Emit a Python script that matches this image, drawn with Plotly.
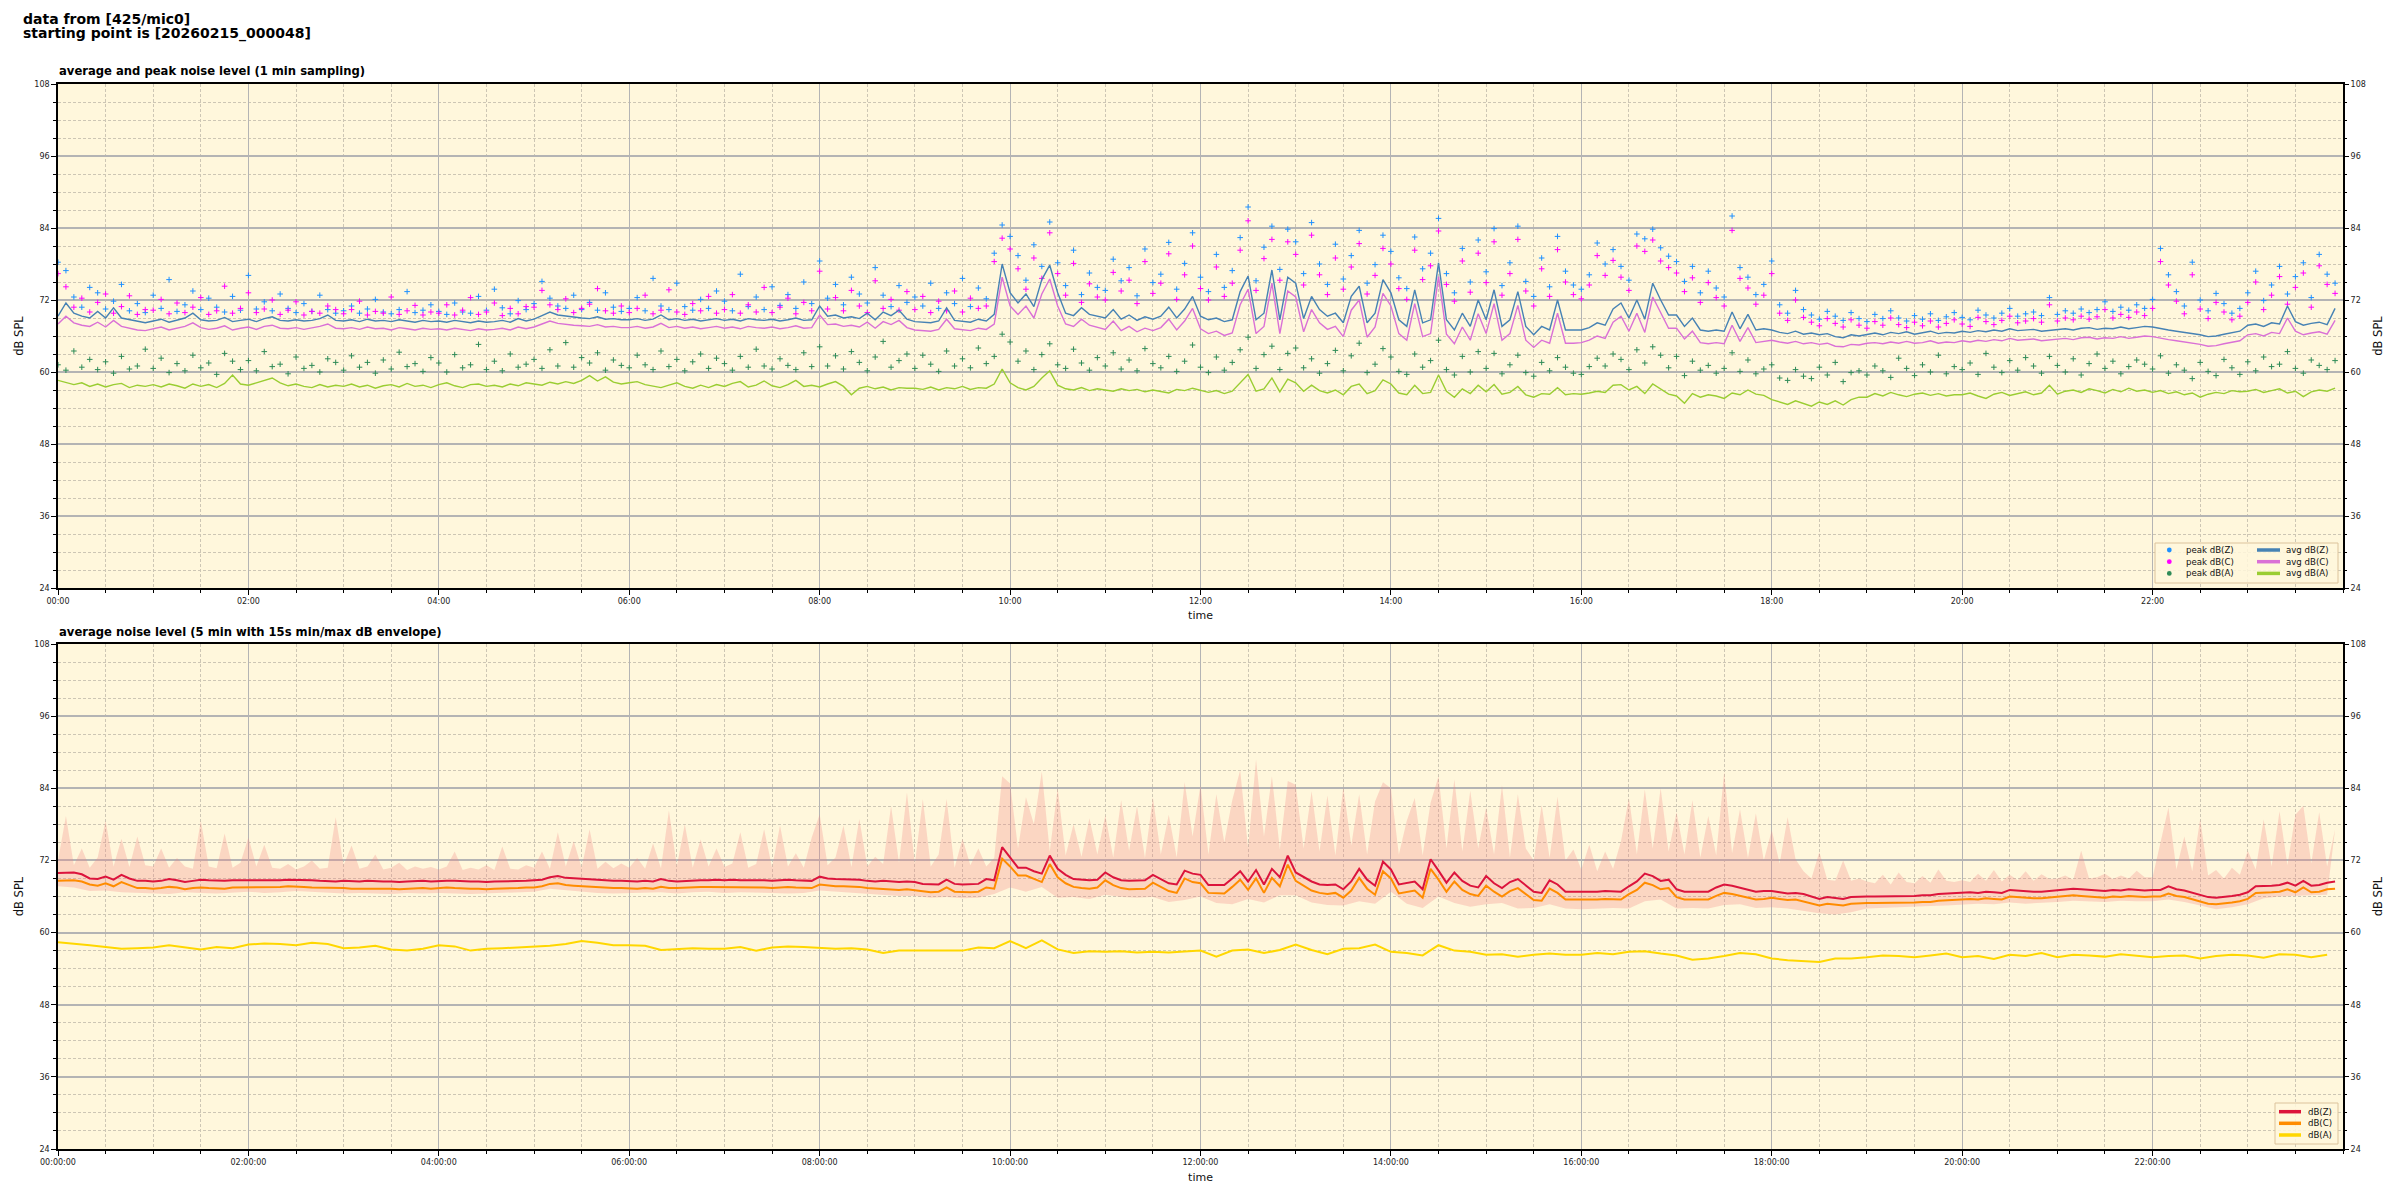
import pandas as pd
import plotly.graph_objects as go

BASE = pd.Timestamp("2026-02-15 00:00:00")
T5 = list(range(0, 1440, 5))     # minutes after midnight, 5-min samples
T10 = list(range(0, 1440, 10))   # minutes after midnight, 10-min samples
TICK_HOURS = [0, 2, 4, 6, 8, 10, 12, 14, 16, 18, 20, 22]
TICK_FMT_TOP = "%H:%M"
TICK_FMT_BOTTOM = "%H:%M:%S"

TITLE_LINES = ["data from [425/mic0]", "starting point is [20260215_000048]"]
TOP_TITLE = "average and peak noise level (1 min sampling)"
BOTTOM_TITLE = "average noise level (5 min with 15s min/max dB envelope)"

# ---------------- top panel: 1-min average / peak levels (read at 5-min steps) ----------------
AVG_Z = [
    69.3, 71.5, 69.8, 69.3, 69.0, 70.1, 69.0, 70.7, 69.0, 68.7, 68.4, 68.2,
    68.5, 68.8, 68.3, 68.6, 69.0, 69.8, 68.7, 68.5, 68.6, 69.1, 68.4, 68.6,
    68.8, 68.4, 68.9, 69.2, 68.6, 68.5, 68.7, 68.5, 68.6, 68.9, 69.5, 68.6,
    68.5, 68.7, 68.4, 68.8, 68.5, 68.6, 68.4, 68.7, 68.5, 68.3, 68.6, 68.4,
    68.5, 68.3, 68.6, 68.4, 68.2, 68.5, 68.3, 68.4, 68.6, 68.3, 68.9, 68.5,
    68.8, 69.4, 70.0, 69.5, 69.3, 69.1, 69.0, 68.9, 69.2, 68.8, 68.9, 68.7,
    68.7, 68.9, 68.6, 68.8, 69.5, 68.7, 68.9, 68.6, 68.8, 68.5, 68.7, 68.9,
    68.6, 68.8, 68.5, 68.9, 68.7, 68.6, 68.8, 68.5, 68.7, 69.0, 68.6, 68.7,
    71.0, 69.3, 69.5, 69.0, 69.2, 68.9, 69.8, 68.7, 70.0, 69.4, 70.3, 68.8,
    68.4, 68.3, 68.2, 68.5, 70.7, 68.6, 68.4, 68.3, 68.8, 68.5, 69.6, 78.0,
    73.2, 71.5, 73.0, 70.9, 75.4, 77.8, 73.2, 69.8, 69.4, 70.7, 69.6, 69.3,
    69.0, 70.4, 68.8, 69.5, 68.6, 69.2, 68.8, 69.3, 70.8, 69.0, 70.5, 72.6,
    69.3, 68.7, 69.0, 68.4, 68.7, 73.4, 76.0, 68.7, 69.8, 77.0, 68.7, 75.8,
    74.8, 68.9, 72.6, 70.4, 69.3, 69.8, 68.2, 72.6, 74.3, 68.2, 69.8, 75.4,
    73.2, 68.7, 67.6, 73.7, 68.2, 68.7, 78.2, 68.7, 67.0, 69.8, 67.6, 72.0,
    68.7, 73.7, 67.6, 68.7, 73.4, 67.6, 66.2, 67.6, 67.0, 72.0, 67.0, 67.0,
    67.0, 67.4, 68.2, 67.8, 70.5, 71.5, 69.0, 72.0, 68.8, 74.8, 72.0, 69.5,
    69.5, 67.6, 69.0, 67.0, 66.8, 67.0, 66.8, 70.0, 67.2, 69.6, 67.0, 67.2,
    67.0, 66.6, 66.4, 66.8, 66.3, 66.5, 66.2, 66.4, 65.9, 65.7, 66.2, 66.0,
    66.3, 66.5, 66.2, 66.6, 66.4, 66.7, 66.3, 66.5, 66.8, 66.4, 66.6, 66.5,
    66.8, 66.6, 66.9, 66.7, 67.0, 66.8, 67.2, 66.9, 67.0, 67.1, 66.8, 66.9,
    67.0, 67.2, 67.0, 67.3, 67.4, 67.1, 67.3, 67.2, 67.5, 67.2, 67.4, 67.6,
    67.5, 67.2, 67.0, 66.8, 66.6, 66.5, 66.2, 65.9, 66.0, 66.3, 66.6, 66.8,
    67.8, 68.0, 67.6, 68.2, 68.0, 71.0, 68.4, 67.8, 68.1, 68.3, 67.9, 70.6,
]
AVG_C = [
    68.0, 69.3, 68.2, 67.8, 67.6, 68.3, 67.5, 68.6, 67.6, 67.3, 67.0, 66.9,
    67.2, 67.5, 67.0, 67.3, 67.6, 68.2, 67.4, 67.1, 67.3, 67.7, 67.0, 67.3,
    67.5, 67.1, 67.6, 67.8, 67.3, 67.2, 67.4, 67.1, 67.3, 67.6, 68.0, 67.3,
    67.2, 67.4, 67.1, 67.5, 67.2, 67.3, 67.0, 67.4, 67.2, 67.0, 67.3, 67.1,
    67.2, 67.0, 67.3, 67.1, 66.9, 67.2, 67.0, 67.1, 67.3, 67.0, 67.5, 67.2,
    67.5, 68.0, 68.5, 68.1, 67.9, 67.8, 67.7, 67.6, 67.9, 67.5, 67.6, 67.4,
    67.4, 67.6, 67.3, 67.5, 68.1, 67.4, 67.6, 67.3, 67.5, 67.2, 67.4, 67.6,
    67.3, 67.5, 67.2, 67.6, 67.4, 67.3, 67.5, 67.2, 67.4, 67.7, 67.3, 67.4,
    69.5, 67.9, 68.0, 67.6, 67.8, 67.5, 68.3, 67.3, 68.4, 67.9, 68.6, 67.4,
    67.0, 66.9, 66.8, 67.1, 68.8, 67.2, 67.0, 66.9, 67.3, 67.1, 68.0, 75.8,
    71.0, 69.6, 71.0, 69.0, 73.0, 75.5, 71.0, 68.0, 67.6, 68.8, 67.8, 67.5,
    67.1, 68.5, 66.9, 67.6, 66.7, 67.3, 66.9, 67.4, 68.8, 67.0, 68.5, 70.6,
    67.2, 66.4, 66.8, 66.1, 66.5, 71.2, 73.8, 66.4, 67.6, 74.8, 66.4, 73.5,
    72.5, 66.7, 70.4, 68.2, 67.1, 67.6, 65.9, 70.3, 72.0, 65.8, 67.5, 73.1,
    71.0, 66.4, 65.3, 71.4, 65.9, 66.4, 75.9, 66.3, 64.7, 67.5, 65.3, 69.7,
    66.4, 71.4, 65.3, 66.4, 71.1, 65.3, 64.1, 65.3, 64.8, 69.8, 64.8, 64.8,
    64.9, 65.3, 66.0, 65.6, 68.3, 69.3, 66.8, 69.8, 66.6, 72.5, 69.8, 67.3,
    67.3, 65.5, 66.8, 64.9, 64.7, 64.9, 64.7, 67.8, 65.1, 67.4, 64.9, 65.1,
    65.3, 65.0, 64.8, 65.1, 64.7, 64.9, 64.6, 64.8, 64.3, 64.2, 64.6, 64.5,
    64.8, 64.9, 64.7, 65.0, 64.8, 65.1, 64.8, 64.9, 65.2, 64.8, 65.0, 64.9,
    65.2, 65.0, 65.3, 65.1, 65.4, 65.2, 65.6, 65.3, 65.4, 65.5, 65.2, 65.3,
    65.4, 65.6, 65.4, 65.7, 65.8, 65.5, 65.7, 65.6, 65.9, 65.6, 65.8, 66.0,
    65.9, 65.6, 65.4, 65.2, 65.0, 64.9, 64.6, 64.3, 64.4, 64.7, 65.0, 65.2,
    66.2, 66.4, 66.0, 66.6, 66.4, 69.0, 66.8, 66.2, 66.5, 66.7, 66.3, 68.6,
]
AVG_A = [
    58.6, 58.3, 57.9, 58.2, 57.6, 58.0, 57.5, 57.9, 58.1, 57.4, 57.8, 57.6,
    57.9, 57.5, 58.0, 57.7, 57.3, 58.0, 57.6, 57.9, 57.4, 58.1, 59.5, 58.0,
    57.8, 58.2, 58.6, 59.0, 58.2, 57.7, 58.0, 57.6, 57.4, 57.9, 57.5, 57.8,
    57.6, 58.0, 57.5, 57.8, 57.3, 57.7, 57.9, 57.5, 58.1, 57.6, 57.8, 57.4,
    57.9, 58.2, 57.7, 57.4, 57.9, 58.0, 57.6, 57.8, 57.5, 58.0, 57.7, 58.2,
    58.0, 57.8, 58.3, 58.0, 58.4, 58.1, 58.6, 59.4, 58.5, 59.2, 58.3, 58.0,
    58.2, 58.4, 57.9, 57.6, 57.4, 57.8, 58.2, 57.6, 57.3, 57.8, 57.4, 57.9,
    57.6, 58.1, 58.4, 57.5, 57.8, 58.5, 57.7, 57.4, 57.9, 58.6, 57.6, 57.8,
    57.5, 58.0, 58.4, 57.6, 56.2, 57.3, 57.6, 57.2, 57.5, 57.0, 57.4, 57.3,
    57.3, 57.1, 57.5, 57.0, 57.4, 57.2, 57.6, 57.1, 57.4, 57.3, 58.0, 60.5,
    58.2, 57.4, 57.0, 57.6, 59.0, 60.2, 57.8, 57.2, 57.0, 57.4, 56.9, 57.2,
    57.0, 56.8, 57.2, 56.9, 57.1, 56.7, 57.0, 56.8, 56.5, 57.1, 56.9, 57.3,
    57.0, 56.6, 56.9, 56.4, 56.8, 58.2, 59.6, 56.8, 57.2, 59.0, 56.7, 58.8,
    58.2, 56.8, 57.8, 56.9, 56.5, 57.0, 56.2, 57.6, 58.0, 56.4, 56.9, 58.7,
    58.0, 56.5, 56.2, 57.8, 56.4, 56.6, 59.5, 56.8, 55.8, 57.2, 56.4, 57.8,
    56.7, 57.9, 56.3, 56.6, 57.6, 56.2, 55.8, 56.4, 56.3, 57.4, 56.2, 56.4,
    56.3, 56.5, 56.8, 56.6, 57.8, 57.9, 57.0, 57.6, 56.4, 58.0, 57.2, 56.3,
    56.0, 54.8, 56.4, 55.8, 56.2, 56.0, 55.6, 56.5, 56.2, 57.0, 56.3, 56.1,
    55.4, 55.0, 54.6, 55.2, 54.8, 54.3, 55.0, 54.6, 55.2, 54.5, 55.4, 55.8,
    55.8, 56.4, 56.0, 56.6, 56.2, 55.9, 56.3, 56.5, 56.1, 56.4, 56.0, 56.2,
    56.2, 56.5, 56.0, 55.6, 56.3, 56.6, 56.1, 56.4, 56.7, 56.2, 56.5, 57.8,
    56.3, 56.8, 57.0, 56.6, 57.2, 56.9, 56.5, 57.1, 56.7, 57.3, 56.8, 57.0,
    56.6, 56.9, 56.4, 56.7, 56.2, 56.5, 55.8, 56.3, 56.6, 56.4, 56.9, 56.7,
    56.8, 57.1, 56.6, 56.9, 57.2, 56.5, 56.8, 55.9, 56.7, 57.0, 56.8, 57.3,
]
PEAK_Z = [
    78.3, 76.9, 72.5, 70.8, 74.1, 73.2, 70.5, 71.8, 74.6, 70.2, 71.4, 69.9,
    72.8, 70.6, 75.4, 70.1, 71.2, 73.5, 70.4, 72.3, 70.8, 70.0, 72.6, 70.3,
    76.1, 70.5, 71.7, 70.2, 73.0, 70.6, 69.9, 71.4, 70.1, 72.8, 70.4, 69.8,
    70.2, 71.0, 69.8, 70.5, 72.1, 70.0, 69.7, 70.4, 73.4, 69.9, 70.3, 71.2,
    70.1, 69.6, 71.5, 70.0, 69.8, 72.6, 70.3, 73.8, 70.7, 69.7, 71.9, 70.4,
    71.4, 75.1, 72.3, 71.0, 70.6, 72.8, 70.4, 71.6, 70.3, 73.2, 70.8, 70.1,
    70.6, 72.4, 70.2, 75.6, 71.0, 70.4, 74.8, 70.9, 70.3, 72.1, 70.6, 73.5,
    71.8, 70.2, 76.3, 70.9, 72.5, 70.4, 74.2, 71.1, 72.9, 70.6, 75.0, 71.4,
    78.5, 72.3, 74.6, 71.2, 75.8, 73.0, 71.5, 77.4, 72.8, 70.9, 74.4, 71.6,
    72.5, 71.0, 74.8, 70.6, 73.2, 71.4, 75.6, 70.9, 74.0, 72.2, 79.8, 84.5,
    82.6, 79.4, 75.3, 81.2, 77.6, 85.0, 78.2, 74.4, 80.3, 72.9, 76.5, 74.1,
    73.6, 78.8, 75.2, 77.4, 72.7, 80.5, 74.9, 76.3, 81.6, 73.8, 78.1, 83.2,
    75.8, 73.4, 79.6, 74.1, 76.9, 82.4, 87.5, 75.2, 80.8, 84.3, 77.1, 83.8,
    81.7, 76.4, 84.9, 78.0, 74.6, 81.3, 75.5, 79.4, 83.6, 74.8, 77.9, 82.8,
    80.1, 75.7, 73.9, 82.5, 77.2, 79.8, 85.6, 76.4, 73.2, 80.6, 75.0, 82.0,
    76.7, 83.9, 74.4, 78.2, 84.3, 75.1, 72.6, 79.0, 74.2, 82.6, 76.8, 74.5,
    73.8, 76.2, 81.5, 78.0, 80.4, 77.6, 75.3, 83.0, 82.2, 83.8, 80.7, 79.3,
    78.4, 75.1, 77.6, 73.2, 76.8, 74.0, 72.5, 86.0, 77.4, 75.8, 72.9, 74.6,
    78.5, 71.2, 69.8, 73.6, 70.4, 69.5, 68.8, 70.1, 69.3, 68.6, 69.9, 68.9,
    68.4, 69.6, 68.9, 70.2, 69.0, 68.5, 69.4, 68.8, 69.7, 68.6, 69.2, 69.9,
    69.1, 68.7, 70.3, 69.5, 69.0, 69.8, 70.6, 69.3, 69.7, 70.0, 69.4, 72.4,
    69.6, 70.2, 69.8, 70.5, 69.9, 70.4, 71.7, 70.1, 70.8, 70.3, 71.2, 70.6,
    72.1, 80.6, 76.2, 73.4, 71.0, 78.3, 72.0, 70.2, 73.1, 71.4, 69.8, 70.6,
    73.2, 76.8, 71.9, 74.5, 77.6, 73.0, 75.9, 78.2, 72.4, 79.6, 76.3, 74.8,
]
PEAK_C = [
    76.4, 74.2, 70.8, 72.3, 70.0, 71.6, 73.0, 69.8, 70.9, 72.7, 69.6, 70.4,
    70.3, 72.1, 69.7, 71.5, 69.9, 70.8, 72.4, 69.6, 70.2, 74.3, 69.8, 70.6,
    73.2, 69.9, 70.5, 72.0, 69.6, 70.3, 71.7, 69.5, 70.1, 69.8, 71.0, 70.4,
    69.7, 70.4, 71.8, 69.5, 70.1, 69.8, 72.5, 69.6, 70.2, 71.1, 69.5, 70.0,
    69.8, 71.2, 69.5, 70.3, 72.4, 69.6, 70.0, 71.5, 69.4, 70.6, 69.7, 70.9,
    70.8, 73.6, 71.2, 70.4, 72.2, 69.9, 70.6, 71.3, 73.9, 70.2, 69.8, 71.0,
    69.9, 70.6, 72.8, 69.7, 70.3, 73.7, 70.0, 69.6, 71.4, 70.2, 72.6, 69.8,
    70.4, 72.9, 69.8, 71.2, 70.0, 74.1, 69.9, 70.8, 72.3, 69.7, 71.6, 70.2,
    76.8, 70.5, 72.4, 70.2, 73.6, 71.0, 69.9, 75.2, 70.6, 72.1, 70.3, 73.4,
    70.4, 72.6, 69.9, 71.8, 70.2, 73.5, 70.0, 72.3, 70.6, 71.0, 78.4, 82.3,
    80.5, 77.2, 73.8, 79.0, 75.6, 83.2, 76.4, 72.8, 78.1, 71.6, 74.7, 72.5,
    72.0, 76.6, 73.5, 75.3, 71.4, 78.4, 73.1, 74.8, 79.7, 72.1, 76.2, 81.0,
    73.9, 72.0, 77.5, 72.6, 74.8, 80.3, 85.2, 73.6, 78.9, 82.1, 75.3, 81.7,
    79.6, 74.5, 82.8, 76.2, 72.9, 79.0, 73.8, 77.5, 81.4, 73.0, 76.1, 80.6,
    78.0, 73.9, 72.1, 80.3, 75.4, 77.7, 83.5, 74.6, 71.8, 78.5, 73.3, 79.8,
    74.9, 81.7, 72.8, 76.4, 82.1, 73.5, 71.0, 77.2, 72.6, 80.4, 75.0, 72.9,
    72.2, 74.5, 79.4, 76.1, 78.6, 75.8, 73.6, 81.0, 80.1, 82.0, 78.5, 77.4,
    76.5, 73.4, 75.7, 71.6, 74.9, 72.4, 71.0, 83.6, 75.6, 74.0, 71.3, 72.8,
    76.4, 69.8, 68.6, 72.0, 69.1, 68.3, 67.7, 68.9, 68.1, 67.5, 68.7, 67.8,
    67.3, 68.4, 67.8, 69.0, 67.9, 67.4, 68.3, 67.7, 68.5, 67.5, 68.1, 68.7,
    68.0, 67.6, 69.1, 68.4, 67.9, 68.6, 69.3, 68.2, 68.5, 68.9, 68.3, 71.2,
    68.5, 69.0, 68.7, 69.3, 68.8, 69.2, 70.4, 69.0, 69.6, 69.1, 70.0, 69.4,
    70.6, 78.4, 74.5, 71.8, 69.7, 76.2, 70.5, 68.9, 71.6, 70.0, 68.7, 69.3,
    71.6, 75.0, 70.4, 72.8, 75.9, 71.3, 74.1, 76.5, 70.8, 77.7, 74.6, 73.1,
]
PEAK_A = [
    61.2, 60.3, 63.5, 60.8, 62.1, 60.4, 61.7, 59.8, 62.6, 60.5, 61.0, 63.8,
    60.6, 62.3, 59.9, 61.4, 60.2, 62.8, 60.7, 61.5, 59.6, 63.1, 61.8, 60.4,
    61.9, 60.2, 63.4, 60.9, 61.3, 59.7, 62.5, 60.6, 61.1, 60.0, 62.2, 61.6,
    60.3, 62.7, 60.8, 61.6, 59.8, 62.0, 60.5, 63.3, 60.9, 61.4, 60.1, 62.4,
    61.5, 60.0, 62.9, 60.7, 61.2, 64.6, 60.4, 61.8, 60.2, 63.0, 60.8, 61.3,
    62.1, 60.6, 63.7, 61.0, 64.9, 60.8, 62.4, 61.5, 63.2, 60.3, 62.0, 61.1,
    60.7, 62.8, 61.2, 60.4, 63.5, 60.9, 62.1, 60.2, 61.7, 63.0, 60.6, 62.3,
    61.4, 60.3, 62.6, 60.8, 63.8, 61.0, 60.5, 62.2, 61.1, 60.4, 63.2, 60.9,
    64.2, 61.0, 62.7, 60.5, 63.4, 61.6, 60.2, 62.5, 65.1, 60.8, 61.9, 63.0,
    60.6, 62.8, 61.3, 60.1, 63.5, 61.0, 62.2, 60.7, 64.0, 61.4, 62.6, 66.3,
    65.0, 61.8, 63.5, 60.4, 62.9, 64.7, 61.2, 60.6, 63.8, 61.5, 60.3, 62.4,
    61.0, 63.2, 60.5, 62.0, 60.2, 63.9, 61.4, 60.7, 62.6, 60.1, 61.8, 64.5,
    60.8, 59.9, 62.5, 60.3, 61.6, 63.7, 65.8, 60.6, 62.9, 64.3, 60.4, 63.1,
    64.0, 60.7, 62.2, 59.8, 61.4, 63.6, 60.2, 62.7, 64.8, 59.9, 61.3, 63.9,
    62.5, 60.1, 59.6, 63.0, 60.8, 61.9, 65.3, 60.4, 59.5, 62.6, 60.0, 63.4,
    60.6, 63.1, 59.7, 61.2, 62.8, 59.9, 59.3, 61.6, 60.2, 62.4, 60.8, 59.8,
    59.6, 60.9, 62.3, 61.0, 63.0, 62.1, 60.4, 63.7, 61.5, 64.2, 62.8, 60.7,
    62.6, 59.4, 61.8, 60.3, 61.1, 59.8, 60.6, 63.2, 60.1, 62.0, 59.7, 60.5,
    61.2, 59.0, 58.6, 60.4, 59.3, 58.9, 60.8, 59.5, 61.6, 58.4, 59.9, 60.2,
    59.5, 61.0, 60.2, 59.1, 62.3, 60.6, 59.4, 61.2, 60.0, 62.8, 59.7, 60.9,
    60.4, 61.5, 59.6, 63.1, 60.8, 59.9, 61.9, 60.3, 62.4, 61.0, 59.8, 62.6,
    61.1, 60.0, 62.2, 59.5, 61.4, 63.0, 60.6, 61.8, 59.7, 60.9, 62.0, 61.3,
    60.5, 62.7, 59.8, 61.2, 60.3, 58.9, 61.6, 60.1, 59.4, 62.1, 60.7, 59.6,
    61.7, 60.2, 62.5, 60.9, 61.3, 63.4, 60.6, 59.8, 62.0, 61.1, 60.4, 61.9,
]

# ---------------- bottom panel: 5-min averages with 15 s min/max envelope ----------------
LVL_Z = [
    69.9, 70.0, 70.0, 69.7, 69.0, 68.9, 69.3, 68.8, 69.6, 69.0, 68.6, 68.6,
    68.5, 68.6, 68.9, 68.7, 68.4, 68.6, 68.8, 68.7, 68.6, 68.6, 68.7, 68.7,
    68.7, 68.7, 68.6, 68.6, 68.7, 68.8, 68.8, 68.7, 68.7, 68.6, 68.5, 68.5,
    68.6, 68.5, 68.5, 68.6, 68.5, 68.5, 68.5, 68.4, 68.5, 68.6, 68.6, 68.5,
    68.6, 68.6, 68.6, 68.5, 68.5, 68.5, 68.4, 68.5, 68.5, 68.5, 68.6, 68.6,
    68.7, 68.8, 69.2, 69.4, 69.1, 69.0, 68.9, 68.8, 68.7, 68.7, 68.6, 68.6,
    68.5, 68.5, 68.6, 68.5, 68.9, 68.6, 68.5, 68.6, 68.7, 68.7, 68.7, 68.8,
    68.7, 68.8, 68.7, 68.7, 68.8, 68.7, 68.6, 68.7, 68.8, 68.7, 68.7, 68.6,
    69.3, 69.0, 68.9, 68.9, 68.9, 68.8, 68.6, 68.5, 68.6, 68.5, 68.4, 68.5,
    68.4, 68.1, 68.0, 68.0, 68.8, 68.1, 68.0, 68.0, 68.1, 68.9, 68.7, 74.2,
    72.5, 70.8, 70.8, 70.2, 69.8, 72.8, 70.6, 69.6, 68.9, 68.8, 68.7, 68.8,
    70.0, 69.2, 68.7, 68.6, 68.6, 68.7, 69.6, 68.9, 68.2, 68.0, 70.3, 69.8,
    69.6, 67.9, 67.9, 67.9, 69.0, 70.2, 68.5, 70.4, 68.0, 70.6, 69.2, 72.8,
    70.0, 69.3, 68.5, 68.0, 67.9, 68.0, 67.2, 68.5, 70.6, 68.8, 67.8, 71.8,
    70.5, 68.0, 68.2, 68.5, 67.2, 72.2, 70.3, 68.3, 70.0, 68.6, 67.8, 67.5,
    69.4, 68.2, 67.4, 68.4, 68.9, 67.8, 66.8, 66.6, 68.7, 68.0, 66.8, 66.8,
    66.8, 66.7, 66.8, 66.9, 66.8, 66.8, 67.7, 68.5, 69.8, 69.4, 68.6, 68.8,
    67.2, 66.8, 66.8, 66.8, 66.8, 67.5, 68.0, 67.8, 67.5, 67.2, 66.8, 66.9,
    66.9, 66.7, 66.5, 66.6, 66.4, 66.0, 65.6, 65.9, 65.7, 65.6, 65.9, 66.0,
    66.0, 66.0, 66.0, 66.0, 66.1, 66.1, 66.1, 66.2, 66.2, 66.4, 66.5, 66.5,
    66.6, 66.7, 66.6, 66.8, 66.7, 66.6, 67.1, 67.0, 66.8, 66.8, 66.8, 66.9,
    67.0, 67.1, 67.3, 67.2, 67.1, 67.0, 66.9, 67.1, 67.0, 67.2, 67.1, 67.0,
    67.1, 67.1, 67.7, 67.2, 67.0, 66.6, 66.2, 65.9, 65.8, 65.9, 66.1, 66.3,
    66.7, 67.7, 67.7, 67.8, 67.9, 68.3, 67.8, 68.6, 67.8, 67.9, 68.3, 68.5,
]
LVL_C = [
    68.6, 68.7, 68.7, 68.5, 68.0, 67.8, 68.2, 67.7, 68.4, 67.9, 67.4, 67.4,
    67.3, 67.4, 67.6, 67.5, 67.2, 67.4, 67.5, 67.4, 67.4, 67.3, 67.5, 67.5,
    67.6, 67.6, 67.5, 67.5, 67.6, 67.7, 67.7, 67.6, 67.5, 67.5, 67.4, 67.4,
    67.4, 67.3, 67.3, 67.4, 67.4, 67.3, 67.3, 67.2, 67.3, 67.4, 67.4, 67.3,
    67.4, 67.5, 67.4, 67.3, 67.3, 67.3, 67.2, 67.3, 67.3, 67.4, 67.4, 67.5,
    67.5, 67.7, 68.1, 68.2, 67.9, 67.8, 67.7, 67.6, 67.5, 67.5, 67.4, 67.4,
    67.3, 67.3, 67.4, 67.3, 67.6, 67.4, 67.4, 67.5, 67.5, 67.6, 67.6, 67.6,
    67.5, 67.6, 67.5, 67.5, 67.6, 67.5, 67.4, 67.5, 67.6, 67.5, 67.5, 67.4,
    68.0, 67.8, 67.7, 67.7, 67.7, 67.6, 67.4, 67.3, 67.3, 67.2, 67.1, 67.2,
    67.0, 66.8, 66.7, 66.8, 67.5, 66.8, 66.7, 66.7, 66.8, 67.5, 67.3, 72.3,
    71.0, 69.5, 69.5, 68.9, 68.4, 71.4, 69.2, 68.2, 67.6, 67.4, 67.3, 67.5,
    68.7, 67.9, 67.4, 67.2, 67.2, 67.3, 68.3, 67.6, 66.9, 66.6, 69.0, 68.4,
    68.2, 66.6, 66.5, 66.5, 67.6, 68.8, 67.1, 69.0, 66.6, 69.1, 67.7, 71.3,
    68.6, 67.8, 67.0, 66.6, 66.4, 66.6, 65.8, 67.0, 69.1, 67.3, 66.3, 70.2,
    69.0, 66.5, 66.7, 67.0, 65.8, 70.6, 68.8, 66.8, 68.5, 67.1, 66.4, 66.1,
    67.8, 66.8, 66.0, 66.9, 67.4, 66.4, 65.4, 65.3, 67.3, 66.6, 65.5, 65.5,
    65.5, 65.4, 65.5, 65.6, 65.5, 65.5, 66.4, 67.1, 68.3, 67.9, 67.2, 67.4,
    65.9, 65.5, 65.5, 65.5, 65.5, 66.1, 66.6, 66.4, 66.1, 65.8, 65.5, 65.6,
    65.8, 65.6, 65.4, 65.5, 65.2, 64.9, 64.5, 64.8, 64.6, 64.5, 64.8, 64.9,
    64.9, 64.9, 64.9, 64.9, 65.0, 65.0, 65.0, 65.1, 65.1, 65.3, 65.4, 65.4,
    65.5, 65.6, 65.5, 65.7, 65.6, 65.5, 66.0, 65.9, 65.7, 65.7, 65.7, 65.8,
    65.9, 66.0, 66.2, 66.1, 66.0, 65.9, 65.8, 66.0, 65.9, 66.1, 66.0, 65.9,
    66.0, 66.0, 66.5, 66.1, 65.9, 65.5, 65.1, 64.8, 64.7, 64.8, 65.0, 65.2,
    65.6, 66.6, 66.6, 66.7, 66.8, 67.2, 66.7, 67.5, 66.7, 66.8, 67.2, 67.3,
]
LVL_A = [
    58.4, 58.2, 57.9, 57.6, 57.3, 57.4,
    57.5, 57.9, 57.6, 57.2, 57.6, 57.4,
    58.0, 58.2, 58.1, 57.9, 58.3, 58.1,
    57.4, 57.5, 57.8, 57.2, 57.0, 57.3,
    57.9, 57.7, 57.0, 57.3, 57.4, 57.5,
    57.6, 57.8, 58.1, 58.6, 58.3, 57.9,
    57.9, 57.8, 57.1, 57.3, 57.4, 57.3,
    57.3, 57.6, 57.0, 57.5, 57.7, 57.6,
    57.5, 57.3, 57.4, 57.2, 56.6, 57.0,
    57.0, 57.0, 56.9, 57.0, 57.5, 57.4,
    58.6, 57.4, 58.7, 57.2, 56.6, 56.9,
    56.8, 56.9, 56.7, 56.8, 56.7, 56.9,
    57.0, 56.0, 57.0, 57.2, 56.6, 57.1,
    58.0, 57.1, 56.4, 57.3, 57.4, 58.0,
    56.8, 56.6, 56.2, 57.9, 57.0, 56.8,
    56.3, 56.4, 56.0, 56.3, 56.5, 56.3,
    56.3, 56.6, 56.4, 56.8, 56.9, 56.5,
    56.2, 55.5, 55.7, 56.1, 56.6, 56.4,
    55.7, 55.4, 55.3, 55.1, 55.7, 55.7,
    55.9, 56.2, 56.1, 55.9, 56.2, 56.5,
    55.9, 56.1, 55.6, 56.3, 56.1, 56.6,
    55.9, 56.3, 56.2, 56.0, 56.4, 56.1,
    55.9, 56.1, 56.2, 55.7, 56.1, 56.3,
    56.2, 55.8, 56.4, 56.3, 55.9, 56.3,
]
ENV_MAX = [
    72.0, 79.4, 71.2, 74.0, 70.8, 72.5, 78.6, 71.0, 75.6, 70.9, 76.0, 71.2,
    71.0, 74.0, 70.8, 72.4, 71.0, 70.6, 78.6, 71.0, 70.7, 76.5, 70.8, 71.6,
    75.8, 71.0, 74.6, 70.8, 70.6, 71.4, 70.5, 71.0, 72.0, 70.6, 70.8, 79.2,
    71.2, 74.5, 70.6, 71.0, 73.0, 70.5, 70.8, 71.6, 70.4, 71.0, 70.6, 70.9,
    70.5, 71.0, 73.5, 70.4, 70.8, 70.5, 71.2, 70.4, 74.3, 70.6, 70.5, 71.2,
    70.8, 73.5, 70.6, 76.7, 71.0, 75.2, 70.8, 77.2, 70.6, 71.8, 70.7, 71.5,
    70.8, 72.4, 70.6, 74.8, 70.7, 80.3, 71.0, 78.0, 70.8, 75.5, 71.0, 74.0,
    70.9, 71.5, 76.7, 70.8, 71.4, 77.2, 70.8, 77.8, 71.0, 73.2, 70.8, 75.8,
    79.7, 71.2, 72.5, 77.8, 70.9, 78.9, 71.0, 72.6, 71.4, 81.0, 71.6, 83.3,
    71.4, 82.2, 71.0, 73.0, 82.2, 70.8, 75.6, 71.2, 74.0, 71.0, 72.4, 86.0,
    84.8, 74.0, 82.5, 78.0, 86.8, 73.5, 84.0, 72.8, 78.0, 72.6, 79.0, 73.0,
    79.5, 72.5, 82.0, 73.6, 81.0, 72.4, 82.5, 73.0, 79.6, 72.5, 85.0, 76.0,
    84.5, 73.0, 83.0, 75.0, 82.0, 87.0, 74.0, 88.8, 76.0, 86.0, 73.8, 85.2,
    84.6, 74.0, 83.5, 73.5, 82.8, 72.8, 84.2, 74.5, 83.0, 73.0, 81.8, 85.0,
    84.0, 73.0, 78.6, 82.4, 72.8, 81.6, 86.0, 74.0, 85.5, 73.5, 83.6, 74.0,
    80.8, 73.0, 84.5, 72.5, 83.0, 74.0, 72.0, 81.2, 72.4, 82.6, 72.0, 73.8,
    70.5, 74.6, 70.2, 73.5, 70.6, 75.2, 82.4, 73.0, 83.8, 74.0, 84.0, 73.5,
    80.0, 73.0, 82.0, 72.5, 79.4, 72.8, 86.7, 73.2, 80.5, 72.4, 79.8, 72.0,
    77.0, 71.5, 79.2, 72.2, 70.2, 69.0, 73.4, 68.8, 68.6, 72.0, 68.6, 69.0,
    68.5, 68.2, 69.6, 68.0, 70.0, 68.4, 68.2, 69.4, 68.3, 70.5, 68.6, 68.4,
    68.7, 68.4, 69.8, 68.6, 70.4, 68.5, 69.6, 68.7, 70.2, 68.6, 69.7, 68.9,
    69.0, 69.5, 68.8, 73.6, 69.0, 69.2, 69.8, 68.9, 69.5, 69.0, 70.3, 69.2,
    69.2, 75.0, 80.8, 70.5, 76.0, 70.2, 78.9, 69.5, 70.4, 69.0, 70.8, 69.6,
    73.6, 70.5, 78.8, 71.0, 80.2, 71.2, 79.6, 81.1, 71.5, 80.0, 71.0, 77.2,
]
ENV_MIN = [
    67.7, 67.5, 66.9, 67.0, 66.7, 66.5,
    66.5, 66.4, 66.7, 66.6, 66.5, 66.7,
    66.8, 66.6, 66.7, 66.9, 66.7, 66.6,
    66.5, 66.6, 66.5, 66.4, 66.6, 66.5,
    66.6, 66.5, 66.4, 66.5, 66.6, 66.7,
    66.8, 67.3, 67.1, 66.8, 66.6, 66.5,
    66.5, 66.6, 66.7, 66.5, 66.7, 66.8,
    66.6, 66.7, 66.7, 66.6, 66.5, 66.6,
    67.0, 66.8, 66.7, 66.5, 66.3, 66.1,
    66.1, 65.8, 65.9, 65.7, 65.8, 66.4,
    67.5, 66.8, 67.6, 65.8, 65.9, 65.6,
    66.3, 65.9, 65.8, 65.9, 65.1, 65.4,
    66.0, 64.9, 64.7, 65.6, 65.0, 66.2,
    66.2, 65.0, 64.6, 64.5, 65.2, 64.8,
    66.8, 64.8, 64.1, 66.0, 64.9, 64.3,
    64.7, 64.9, 64.0, 64.1, 64.7, 64.0,
    63.9, 64.0, 64.1, 64.0, 65.2, 65.5,
    64.0, 64.1, 64.0, 64.6, 64.7, 64.1,
    64.2, 64.0, 63.6, 63.2, 63.0, 63.4,
    64.0, 64.1, 64.2, 64.3, 64.4, 64.5,
    64.6, 64.8, 64.7, 65.0, 64.8, 65.0,
    65.1, 65.3, 65.2, 65.1, 65.3, 65.2,
    65.2, 65.5, 65.1, 64.5, 63.9, 64.2,
    64.7, 65.7, 66.0, 66.1, 66.2, 66.3,
]

# series: (label, colour)
TOP_PEAK_SERIES = [("peak dB(Z)", "#1e90ff"), ("peak dB(C)", "#ff00ff"), ("peak dB(A)", "#2e8b57")]
TOP_AVG_SERIES = [("avg dB(Z)", "#4682b4"), ("avg dB(C)", "#da70d6"), ("avg dB(A)", "#9acd32")]
BOT_SERIES = [("dB(Z)", "#dc143c"), ("dB(C)", "#ff8c00"), ("dB(A)", "#ffd700")]


def times(minutes, n):
    return [BASE + pd.Timedelta(minutes=m) for m in minutes[:n]]


BG = "#fff7dc"
FONT = "DejaVu Sans"
GRID_MAJOR = "#b4b4b4"
GRID_MINOR = "#cdc6b4"

fig = go.Figure()

# ---- top panel ----
for (name, col), ys in zip(TOP_PEAK_SERIES, [PEAK_Z, PEAK_C, PEAK_A]):
    fig.add_trace(go.Scatter(x=times(T5, len(ys)), y=ys, mode="markers", name=name, showlegend=False,
                             marker=dict(symbol="cross-thin", size=4, color=col,
                                         line=dict(width=1, color=col)),
                             xaxis="x", yaxis="y"))
for (name, col), ys in reversed(list(zip(TOP_AVG_SERIES, [AVG_Z, AVG_C, AVG_A]))):
    fig.add_trace(go.Scatter(x=times(T5, len(ys)), y=ys, mode="lines", name=name, showlegend=False,
                             line=dict(color=col, width=1.4), xaxis="x", yaxis="y"))

# ---- bottom panel ----
tmax = times(T5, len(ENV_MAX))
tmin = times(T10, len(ENV_MIN))
fig.add_trace(go.Scatter(x=tmax + tmin[::-1], y=ENV_MAX + ENV_MIN[::-1], mode="lines",
                         fill="toself", fillcolor="rgba(240,128,128,0.28)",
                         line=dict(width=0, color="rgba(0,0,0,0)"), showlegend=False,
                         hoverinfo="skip", xaxis="x2", yaxis="y3"))
fig.add_trace(go.Scatter(x=times(T10, len(LVL_A)), y=LVL_A, mode="lines", showlegend=False,
                         line=dict(color=BOT_SERIES[2][1], width=2), xaxis="x2", yaxis="y3"))
fig.add_trace(go.Scatter(x=times(T5, len(LVL_C)), y=LVL_C, mode="lines", showlegend=False,
                         line=dict(color=BOT_SERIES[1][1], width=2), xaxis="x2", yaxis="y3"))
fig.add_trace(go.Scatter(x=times(T5, len(LVL_Z)), y=LVL_Z, mode="lines", showlegend=False,
                         line=dict(color=BOT_SERIES[0][1], width=2), xaxis="x2", yaxis="y3"))

# invisible traces to bind right-hand axes
fig.add_trace(go.Scatter(x=[None], y=[None], showlegend=False, xaxis="x", yaxis="y2"))
fig.add_trace(go.Scatter(x=[None], y=[None], showlegend=False, xaxis="x2", yaxis="y4"))

# page body has an 8px margin: size the figure to fit inside the window
OFF = 8
W, H = 2400 - 2 * OFF, 1200 - 2 * OFF
ML, MT = 58 - OFF, 84 - OFF
MR, MB = W - (2343 - OFF), H - (1149 - OFF)
PW, PH = W - ML - MR, H - MT - MB


def px_x(p):   # reference-window pixel -> paper x
    return (p - OFF - ML) / PW


def px_y(p):   # reference-window pixel -> paper y
    return (H - MB - (p - OFF)) / PH


TOP_DOM = [px_y(588), 1.0]
BOT_DOM = [0.0, px_y(644)]

x_range = [BASE, BASE + pd.Timedelta(minutes=1440)]
major_vals = [BASE + pd.Timedelta(hours=h) for h in TICK_HOURS]
minor_vals = [BASE + pd.Timedelta(minutes=m) for m in range(0, 1441, 30)]
tickfont = dict(family=FONT, size=8, color="#222222")
titlefont = dict(family=FONT, size=11, color="#111111")


def xaxis(fmt, anchor, standoff):
    return dict(type="date", range=x_range, tickmode="array", tickvals=major_vals, tickformat=fmt,
                ticks="outside", ticklen=5, tickwidth=1, tickcolor="black", tickfont=tickfont,
                showline=True, linecolor="black", linewidth=1.5, mirror=True,
                showgrid=True, gridcolor=GRID_MAJOR, gridwidth=1.2, zeroline=False,
                minor=dict(tickmode="array", tickvals=minor_vals, ticks="outside", ticklen=3,
                           tickcolor="black", showgrid=True, gridcolor=GRID_MINOR,
                           griddash="3px,2px", gridwidth=0.8),
                title=dict(text="time", font=titlefont, standoff=standoff),
                anchor=anchor, automargin=False, domain=[0, 1], fixedrange=True)


def yaxis(domain, anchor, side="left", overlay=None):
    grid = overlay is None
    d = dict(range=[24, 108], dtick=12, tick0=24, ticks="outside", ticklen=5, tickwidth=1,
             tickcolor="black", tickfont=tickfont, side=side, anchor=anchor,
             showgrid=grid, gridcolor=GRID_MAJOR, gridwidth=1.6, zeroline=False,
             minor=dict(dtick=3, tick0=24, ticks="outside", ticklen=3, tickcolor="black",
                        showgrid=grid, gridcolor=GRID_MINOR, griddash="3px,2px", gridwidth=0.8),
             title=dict(text="dB SPL", font=dict(family=FONT, size=11.5, color="#111111"),
                        standoff=8 if side == "left" else 9),
             automargin=False, domain=domain, fixedrange=True)
    if overlay:
        d["overlaying"] = overlay
        d["showline"] = False
    else:
        d.update(showline=True, linecolor="black", linewidth=1.5, mirror=True)
    return d


fig.update_layout(
    width=W, height=H, autosize=False,
    margin=dict(l=ML, r=MR, t=MT, b=MB, pad=0),
    paper_bgcolor="white", plot_bgcolor=BG,
    font=dict(family=FONT, size=10, color="#111"),
    xaxis=xaxis(TICK_FMT_TOP, "y", 6),
    yaxis=yaxis(TOP_DOM, "x"),
    yaxis2=yaxis(TOP_DOM, "x", side="right", overlay="y"),
    xaxis2=xaxis(TICK_FMT_BOTTOM, "y3", 7),
    yaxis3=yaxis(BOT_DOM, "x2"),
    yaxis4=yaxis(BOT_DOM, "x2", side="right", overlay="y3"),
    showlegend=False,
    hovermode=False,
)

# ---- hand-built legends (compact, matplotlib-like) ----
shapes, annotations = [], []
LEG_FILL = "rgba(255,247,220,0.85)"
LEG_EDGE = "#dcc39c"
shapes.append(dict(type="rect", xref="paper", yref="paper", x0=px_x(2155), x1=px_x(2338),
                   y0=px_y(583), y1=px_y(543), fillcolor=LEG_FILL,
                   line=dict(color=LEG_EDGE, width=1), layer="above"))
shapes.append(dict(type="rect", xref="paper", yref="paper", x0=px_x(2275), x1=px_x(2338),
                   y0=px_y(1144), y1=px_y(1103), fillcolor=LEG_FILL,
                   line=dict(color=LEG_EDGE, width=1), layer="above"))
leg_font = dict(family=FONT, size=8.6, color="#111111")
top_rows = [550, 561.7, 573.4]
for (name, col), cy in zip(TOP_PEAK_SERIES, top_rows):
    shapes.append(dict(type="circle", xref="paper", yref="paper",
                       x0=px_x(2169.3 - 2.4), x1=px_x(2169.3 + 2.4),
                       y0=px_y(cy + 2.4), y1=px_y(cy - 2.4), fillcolor=col,
                       line=dict(width=0, color=col), layer="above"))
    annotations.append(dict(text=name, xref="paper", yref="paper", x=px_x(2184), y=px_y(cy),
                            xanchor="left", yanchor="middle", showarrow=False, font=leg_font))
for (name, col), cy in zip(TOP_AVG_SERIES, top_rows):
    shapes.append(dict(type="line", xref="paper", yref="paper", x0=px_x(2257), x1=px_x(2280),
                       y0=px_y(cy), y1=px_y(cy), line=dict(color=col, width=3.5), layer="above"))
    annotations.append(dict(text=name, xref="paper", yref="paper", x=px_x(2284), y=px_y(cy),
                            xanchor="left", yanchor="middle", showarrow=False, font=leg_font))
bot_rows = [1111.7, 1123.3, 1135.0]
for (name, col), cy in zip(BOT_SERIES, bot_rows):
    shapes.append(dict(type="line", xref="paper", yref="paper", x0=px_x(2279), x1=px_x(2301),
                       y0=px_y(cy), y1=px_y(cy), line=dict(color=col, width=3.5), layer="above"))
    annotations.append(dict(text=name, xref="paper", yref="paper", x=px_x(2306), y=px_y(cy),
                            xanchor="left", yanchor="middle", showarrow=False, font=leg_font))

ann_font_big = dict(family=FONT, size=14, color="black")
ann_font_sub = dict(family=FONT, size=11.6, color="black")
for txt, cy in zip(TITLE_LINES, [19, 33.5]):
    annotations.append(dict(text="<b>%s</b>" % txt, xref="paper", yref="paper", x=px_x(21),
                            y=px_y(cy), xanchor="left", yanchor="middle", showarrow=False,
                            font=ann_font_big))
annotations.append(dict(text="<b>%s</b>" % TOP_TITLE, xref="paper", yref="paper", x=px_x(57),
                        y=px_y(71), xanchor="left", yanchor="middle", showarrow=False,
                        font=ann_font_sub))
annotations.append(dict(text="<b>%s</b>" % BOTTOM_TITLE, xref="paper", yref="paper", x=px_x(57),
                        y=px_y(632), xanchor="left", yanchor="middle", showarrow=False,
                        font=ann_font_sub))

fig.update_layout(shapes=shapes, annotations=annotations)

fig.write_html("out.html")
